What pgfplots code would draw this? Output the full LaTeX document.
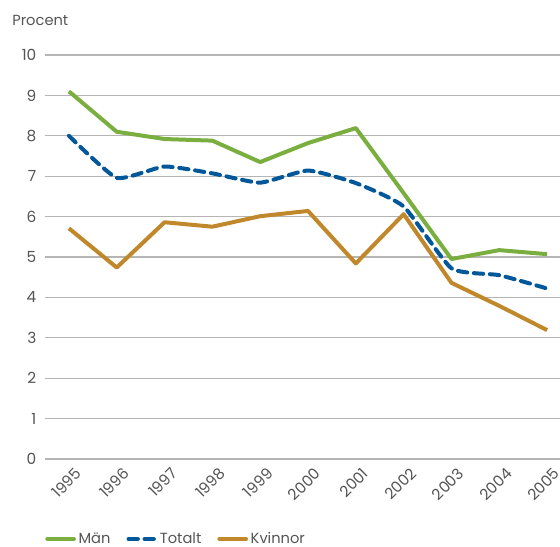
\documentclass[border=0pt]{standalone}
\usepackage{pgfplots}
\pgfplotsset{compat=1.18}
\usepackage{fontspec}
\setmainfont{Poppins}
\definecolor{mangreen}{HTML}{7AAE3F}
\definecolor{totblue}{HTML}{00589A}
\definecolor{kvorange}{HTML}{C0882A}
\definecolor{txtgray}{HTML}{555555}
\definecolor{gridgray}{HTML}{B5B5B5}
\begin{document}
\begin{tikzpicture}
\useasboundingbox (0,0) rectangle (420pt,409.5pt);
\begin{axis}[
  at={(33.75pt,65.25pt)}, anchor=south west,
  scale only axis, width=386.25pt, height=303pt,
  xmin=-0.5, xmax=10.27, ymin=0, ymax=10,
  xtick={0,...,10},
  xticklabels={1995,1996,1997,1998,1999,2000,2001,2002,2003,2004,2005},
  ytick={0,...,10},
  major tick length=0pt,
  axis line style={draw=none},
  ymajorgrids, grid style={gridgray, line width=0.8pt},
  tick label style={font=\fontsize{11.5}{12}\selectfont, text=txtgray},
  /pgf/number format/assume math mode=true,
  yticklabel style={xshift=-3pt},
  xticklabel style={rotate=45, anchor=north east, xshift=0pt, yshift=-6pt, inner sep=1pt},
  legend columns=3,
  legend style={at={(0,-0.198)}, anchor=west, draw=none, inner xsep=0pt, inner ysep=0pt,
    font=\fontsize{11}{12}\selectfont, text=txtgray,
    /tikz/every even column/.append style={column sep=10pt}},
  legend image post style={line cap=round},
  legend image code/.code={\draw[#1] (0pt,0pt) -- (20pt,0pt);},
  clip=false,
]
\addplot[mangreen, line width=3pt, line join=round] coordinates {
(0,9.10) (1,8.10) (2,7.92) (3,7.88) (4,7.35) (5,7.82) (6,8.19) (7,6.58) (8,4.95) (9,5.17) (10,5.07)};
\addlegendentry{Män}
\addplot[totblue, line width=3pt, dash pattern=on 7pt off 5pt, line cap=round, smooth, tension=0.3] coordinates {
(0,8.00) (1,6.96) (2,7.24) (3,7.07) (4,6.84) (5,7.14) (6,6.83) (7,6.25) (8,4.72) (9,4.55) (10,4.22)};
\addlegendentry{Totalt}
\addplot[kvorange, line width=3pt, line join=round] coordinates {
(0,5.71) (1,4.74) (2,5.86) (3,5.75) (4,6.01) (5,6.14) (6,4.84) (7,6.06) (8,4.36) (9,3.79) (10,3.19)};
\addlegendentry{Kvinnor}
\node[anchor=west, inner sep=0pt, font=\fontsize{11}{12}\selectfont, text=txtgray] at ([xshift=-24.75pt, yshift=26.25pt]rel axis cs:0,1) {Procent};
\end{axis}
\end{tikzpicture}
\end{document}
